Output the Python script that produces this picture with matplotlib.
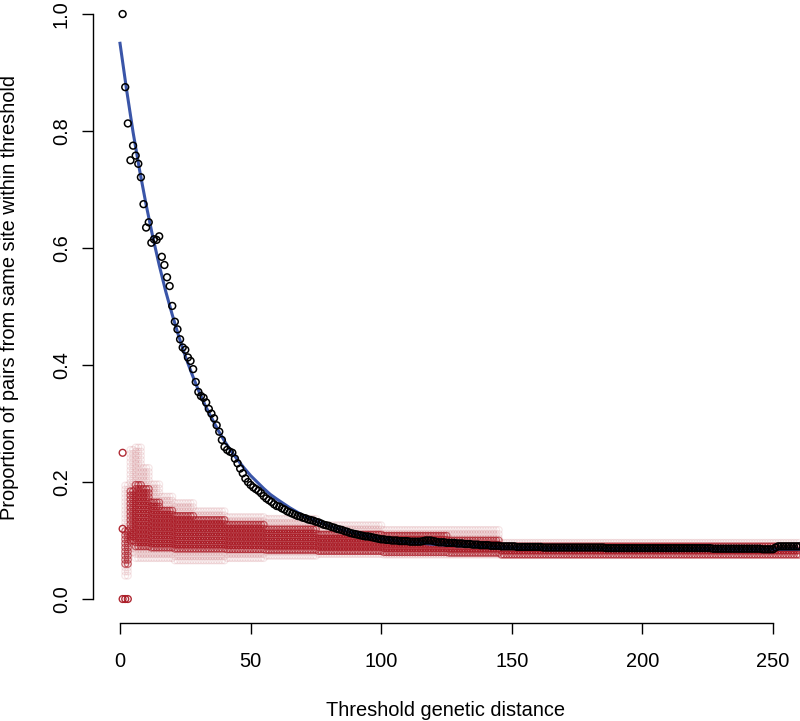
import numpy as np
import matplotlib
matplotlib.use("Agg")
import matplotlib.pyplot as plt

# ---------------- data ----------------
threshold = list(range(1, 261))
observed = [
    1.000, 0.875, 0.813, 0.750, 0.775, 0.758, 0.744, 0.721, 0.675, 0.635,
    0.644, 0.609, 0.615, 0.614, 0.620, 0.585, 0.571, 0.550, 0.535, 0.501,
    0.474, 0.461, 0.444, 0.430, 0.426, 0.413, 0.407, 0.393, 0.371, 0.354,
    0.347, 0.344, 0.336, 0.325, 0.317, 0.309, 0.297, 0.286, 0.272, 0.260,
    0.255, 0.252, 0.250, 0.240, 0.232, 0.223, 0.215, 0.206, 0.200, 0.195,
    0.191, 0.188, 0.185, 0.181, 0.176, 0.172, 0.169, 0.166, 0.162, 0.159,
    0.158, 0.155, 0.153, 0.150, 0.148, 0.146, 0.144, 0.142, 0.141, 0.139,
    0.138, 0.136, 0.135, 0.134, 0.132, 0.131, 0.129, 0.127, 0.126, 0.125,
    0.123, 0.122, 0.120, 0.119, 0.118, 0.116, 0.115, 0.113, 0.112, 0.111,
    0.110, 0.109, 0.108, 0.107, 0.107, 0.106, 0.105, 0.104, 0.103, 0.102,
    0.102, 0.101, 0.101, 0.100, 0.100, 0.100, 0.099, 0.099, 0.099, 0.099,
    0.098, 0.098, 0.098, 0.098, 0.098, 0.099, 0.100, 0.100, 0.100, 0.099,
    0.098, 0.097, 0.097, 0.097, 0.096, 0.096, 0.096, 0.096, 0.095, 0.095,
    0.095, 0.094, 0.094, 0.094, 0.093, 0.093, 0.093, 0.092, 0.092, 0.092,
    0.092, 0.091, 0.091, 0.091, 0.091, 0.090, 0.090, 0.090, 0.090, 0.090,
    0.090, 0.089, 0.089, 0.089, 0.089, 0.089, 0.089, 0.089, 0.089, 0.089,
    0.089, 0.088, 0.088, 0.088, 0.088, 0.088, 0.088, 0.088, 0.088, 0.088,
    0.088, 0.088, 0.088, 0.088, 0.088, 0.088, 0.088, 0.088, 0.088, 0.088,
    0.088, 0.088, 0.088, 0.088, 0.088, 0.087, 0.087, 0.087, 0.087, 0.087,
    0.087, 0.087, 0.087, 0.087, 0.087, 0.087, 0.087, 0.087, 0.087, 0.087,
    0.087, 0.087, 0.087, 0.087, 0.087, 0.087, 0.087, 0.087, 0.087, 0.087,
    0.087, 0.087, 0.087, 0.087, 0.087, 0.087, 0.087, 0.087, 0.087, 0.087,
    0.087, 0.087, 0.087, 0.087, 0.087, 0.087, 0.086, 0.086, 0.086, 0.086,
    0.086, 0.086, 0.086, 0.086, 0.086, 0.086, 0.086, 0.086, 0.086, 0.086,
    0.086, 0.086, 0.086, 0.086, 0.086, 0.085, 0.085, 0.085, 0.085, 0.085,
    0.088, 0.090, 0.090, 0.090, 0.090, 0.090, 0.090, 0.090, 0.090, 0.090,
]

fit_x = [0, 2.5, 5, 7.5, 10, 12.5, 15, 17.5, 20, 22.5, 25, 27.5, 30, 32.5,
         35, 37.5, 40, 42.5, 45, 47.5, 50, 52.5, 55, 57.5, 60, 65, 70, 75,
         80, 85, 90, 95, 100, 110, 120, 130, 140, 150, 165, 180, 200, 230, 260]
fit_y = [0.950, 0.871, 0.798, 0.733, 0.674, 0.620, 0.571, 0.526, 0.486,
         0.449, 0.415, 0.385, 0.357, 0.332, 0.310, 0.289, 0.270, 0.253,
         0.238, 0.224, 0.211, 0.200, 0.189, 0.179, 0.171, 0.156, 0.143,
         0.133, 0.125, 0.118, 0.112, 0.107, 0.103, 0.0975, 0.0935, 0.0908,
         0.0890, 0.0877, 0.0865, 0.0858, 0.0854, 0.0851, 0.0850]

# permutation (null) cloud: per threshold segment, faint and dense ranges
null_seg_start = [2, 4, 6, 9, 12, 16, 21, 29, 41, 56, 76, 101, 126, 146]
null_seg_end   = [3, 5, 8, 11, 15, 20, 28, 40, 55, 75, 100, 125, 145, 260]
null_faint_lo  = [0.040, 0.080, 0.070, 0.070, 0.070, 0.070, 0.066, 0.066,
                  0.070, 0.074, 0.077, 0.076, 0.076, 0.075]
null_faint_hi  = [0.200, 0.260, 0.260, 0.230, 0.200, 0.180, 0.165, 0.155,
                  0.145, 0.138, 0.130, 0.120, 0.118, 0.097]
null_core_lo   = [0.060, 0.100, 0.090, 0.090, 0.088, 0.088, 0.086, 0.086,
                  0.085, 0.084, 0.082, 0.080, 0.079, 0.076]
null_core_hi   = [0.120, 0.190, 0.200, 0.190, 0.170, 0.155, 0.145, 0.135,
                  0.128, 0.122, 0.115, 0.108, 0.104, 0.093]
null_single_x = [1, 1, 1, 2, 3]
null_single_y = [0.0, 0.120, 0.250, 0.0, 0.0]

# ---------------- figure ----------------
W, H = 800, 721
fig = plt.figure(figsize=(W / 100, H / 100), dpi=100)
ax = fig.add_axes([93 / W, (H - 623) / H, (W - 93) / W, 623 / H])
ax.set_xlim(-10.34, 260.34)
ax.set_ylim(-0.041, 1.024)

red = "#a8141f"
ms = 24
step = 0.007
fx, fy, cx, cy = [], [], [], []
for s, e, flo, fhi, clo, chi in zip(null_seg_start, null_seg_end, null_faint_lo,
                                    null_faint_hi, null_core_lo, null_core_hi):
    for x in range(s, e + 1):
        for y in np.arange(flo, fhi + 1e-9, step):
            fx.append(x); fy.append(y)
        for y in np.arange(clo, chi + 1e-9, step):
            cx.append(x); cy.append(y)
ax.scatter(fx, fy, s=ms, facecolors="none", edgecolors=red, linewidths=0.9,
           alpha=0.10, zorder=1)
ax.scatter(cx, cy, s=ms, facecolors="none", edgecolors=red, linewidths=0.9,
           alpha=0.6, zorder=2)
ax.scatter(null_single_x, null_single_y, s=ms, facecolors="none",
           edgecolors=red, linewidths=1.0, alpha=0.9, zorder=2)

ax.plot(fit_x, fit_y, color="#3a55a8", lw=2.2, zorder=3)
ax.scatter(threshold, observed, s=ms, facecolors="none", edgecolors="black",
           linewidths=1.1, zorder=4)

for side in ["top", "right"]:
    ax.spines[side].set_visible(False)
ax.spines["left"].set_bounds(0, 1)
ax.spines["bottom"].set_bounds(0, 250)
ax.spines["left"].set_linewidth(1.0)
ax.spines["bottom"].set_linewidth(1.0)

ax.set_xticks([0, 50, 100, 150, 200, 250])
ax.set_xticklabels(["0", "50", "100", "150", "200", "250"])
ax.set_yticks([0.0, 0.2, 0.4, 0.6, 0.8, 1.0])
ax.set_yticklabels(["0.0", "0.2", "0.4", "0.6", "0.8", "1.0"], rotation=90,
                   va="center")
font = "Liberation Sans"
ax.tick_params(axis="both", direction="out", length=8, width=1.0,
               labelsize=14.4)
ax.tick_params(axis="x", pad=13)
ax.tick_params(axis="y", pad=8)
for lab in ax.get_xticklabels() + ax.get_yticklabels():
    lab.set_fontfamily(font)

fig.text(446 / W, 1 - 710 / H, "Threshold genetic distance", ha="center",
         va="center", fontsize=14.4, family=font)
fig.text(10 / W, 1 - 298 / H,
         "Proportion of pairs from same site within threshold", ha="center",
         va="center", rotation=90, fontsize=14.4, family=font)

fig.savefig("out.png", dpi=100)
